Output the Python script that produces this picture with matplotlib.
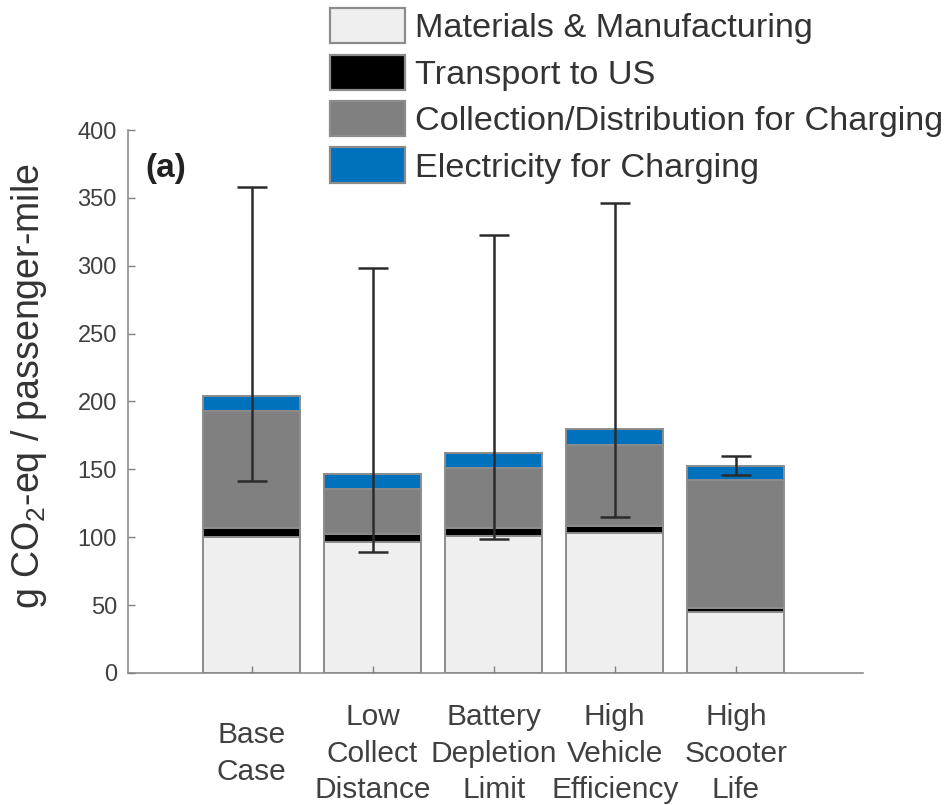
import numpy as np
import matplotlib.pyplot as plt
from matplotlib.patches import Patch

plt.rcParams['font.family'] = ['Liberation Sans', 'DejaVu Sans']
plt.rcParams['mathtext.fontset'] = 'custom'
plt.rcParams['mathtext.rm'] = 'Liberation Sans'
plt.rcParams['mathtext.it'] = 'Liberation Sans:italic'

# Scenarios and life-cycle emission components (g CO2-eq / passenger-mile)
scenarios = ['Base\nCase', 'Low\nCollect\nDistance', 'Battery\nDepletion\nLimit',
             'High\nVehicle\nEfficiency', 'High\nScooter\nLife']
materials = [100, 96.5, 101, 103, 45]
transport = [7, 6, 6, 5.5, 3]
collection = [86, 33, 44, 59.5, 94]
electricity = [11, 11, 11, 12, 10.5]
# Range of total emissions (whiskers)
err_low = [141.5, 89, 99, 115, 146]
err_high = [358, 298, 323, 346, 160]

components = [materials, transport, collection, electricity]
names = ['Materials & Manufacturing', 'Transport to US',
         'Collection/Distribution for Charging', 'Electricity for Charging']
colors = ['#efefef', '#000000', '#808080', '#0072bd']
edge = '#8c8c8c'
tick_color = '#404040'

x = np.arange(1, len(scenarios) + 1)

fig = plt.figure(figsize=(9.51, 8.05), dpi=100)
ax = fig.add_axes([0.1346, 0.164, 0.7729, 0.6745])

bottom = np.zeros(len(x))
for vals, col in zip(components, colors):
    ax.bar(x, vals, width=0.8, bottom=bottom, color=col, edgecolor=edge,
           linewidth=1.4, zorder=1)
    bottom += np.array(vals)

total = bottom
yerr = [total - np.array(err_low), np.array(err_high) - total]
ax.errorbar(x, total, yerr=yerr, fmt='none', ecolor='#2b2b2b', elinewidth=1.8,
            capsize=11, capthick=1.8, zorder=3)

ax.set_xlim(-0.02, 6.05)
ax.set_ylim(0, 400)
ax.set_yticks(np.arange(0, 401, 50))
ax.set_xticks(x)
ax.set_xticklabels(scenarios, fontsize=21.5, color=tick_color, linespacing=1.4,
                   va='center')
ax.tick_params(axis='y', direction='in', length=5, width=1, color='#808080',
               labelsize=17, labelcolor=tick_color, pad=8)
ax.tick_params(axis='x', direction='in', length=5, width=1, color='#808080',
               pad=58)
ax.set_axisbelow(False)

for s in ['top', 'right']:
    ax.spines[s].set_visible(False)
for s in ['left', 'bottom']:
    ax.spines[s].set_color('#8c8c8c')
    ax.spines[s].set_linewidth(1.2)

ax.text(0.024, 0.93, '(a)', transform=ax.transAxes, fontsize=24,
        fontweight='bold', color='#222222', va='center', ha='left')

fig.text(0.03, 0.52, 'g CO$_2$-eq / passenger-mile', rotation=90,
         fontsize=27, color='#333333', ha='center', va='center')

handles = [Patch(facecolor=c, edgecolor=edge, linewidth=1.6) for c in colors]
fig.legend(handles, names, loc='upper left', bbox_to_anchor=(0.347, 0.99),
           frameon=False, fontsize=24.7, handlelength=2.2, handleheight=1.2,
           handletextpad=0.27, labelspacing=0.3, borderpad=0, borderaxespad=0,
           labelcolor='#333333')

plt.savefig('out.png', dpi=100)
